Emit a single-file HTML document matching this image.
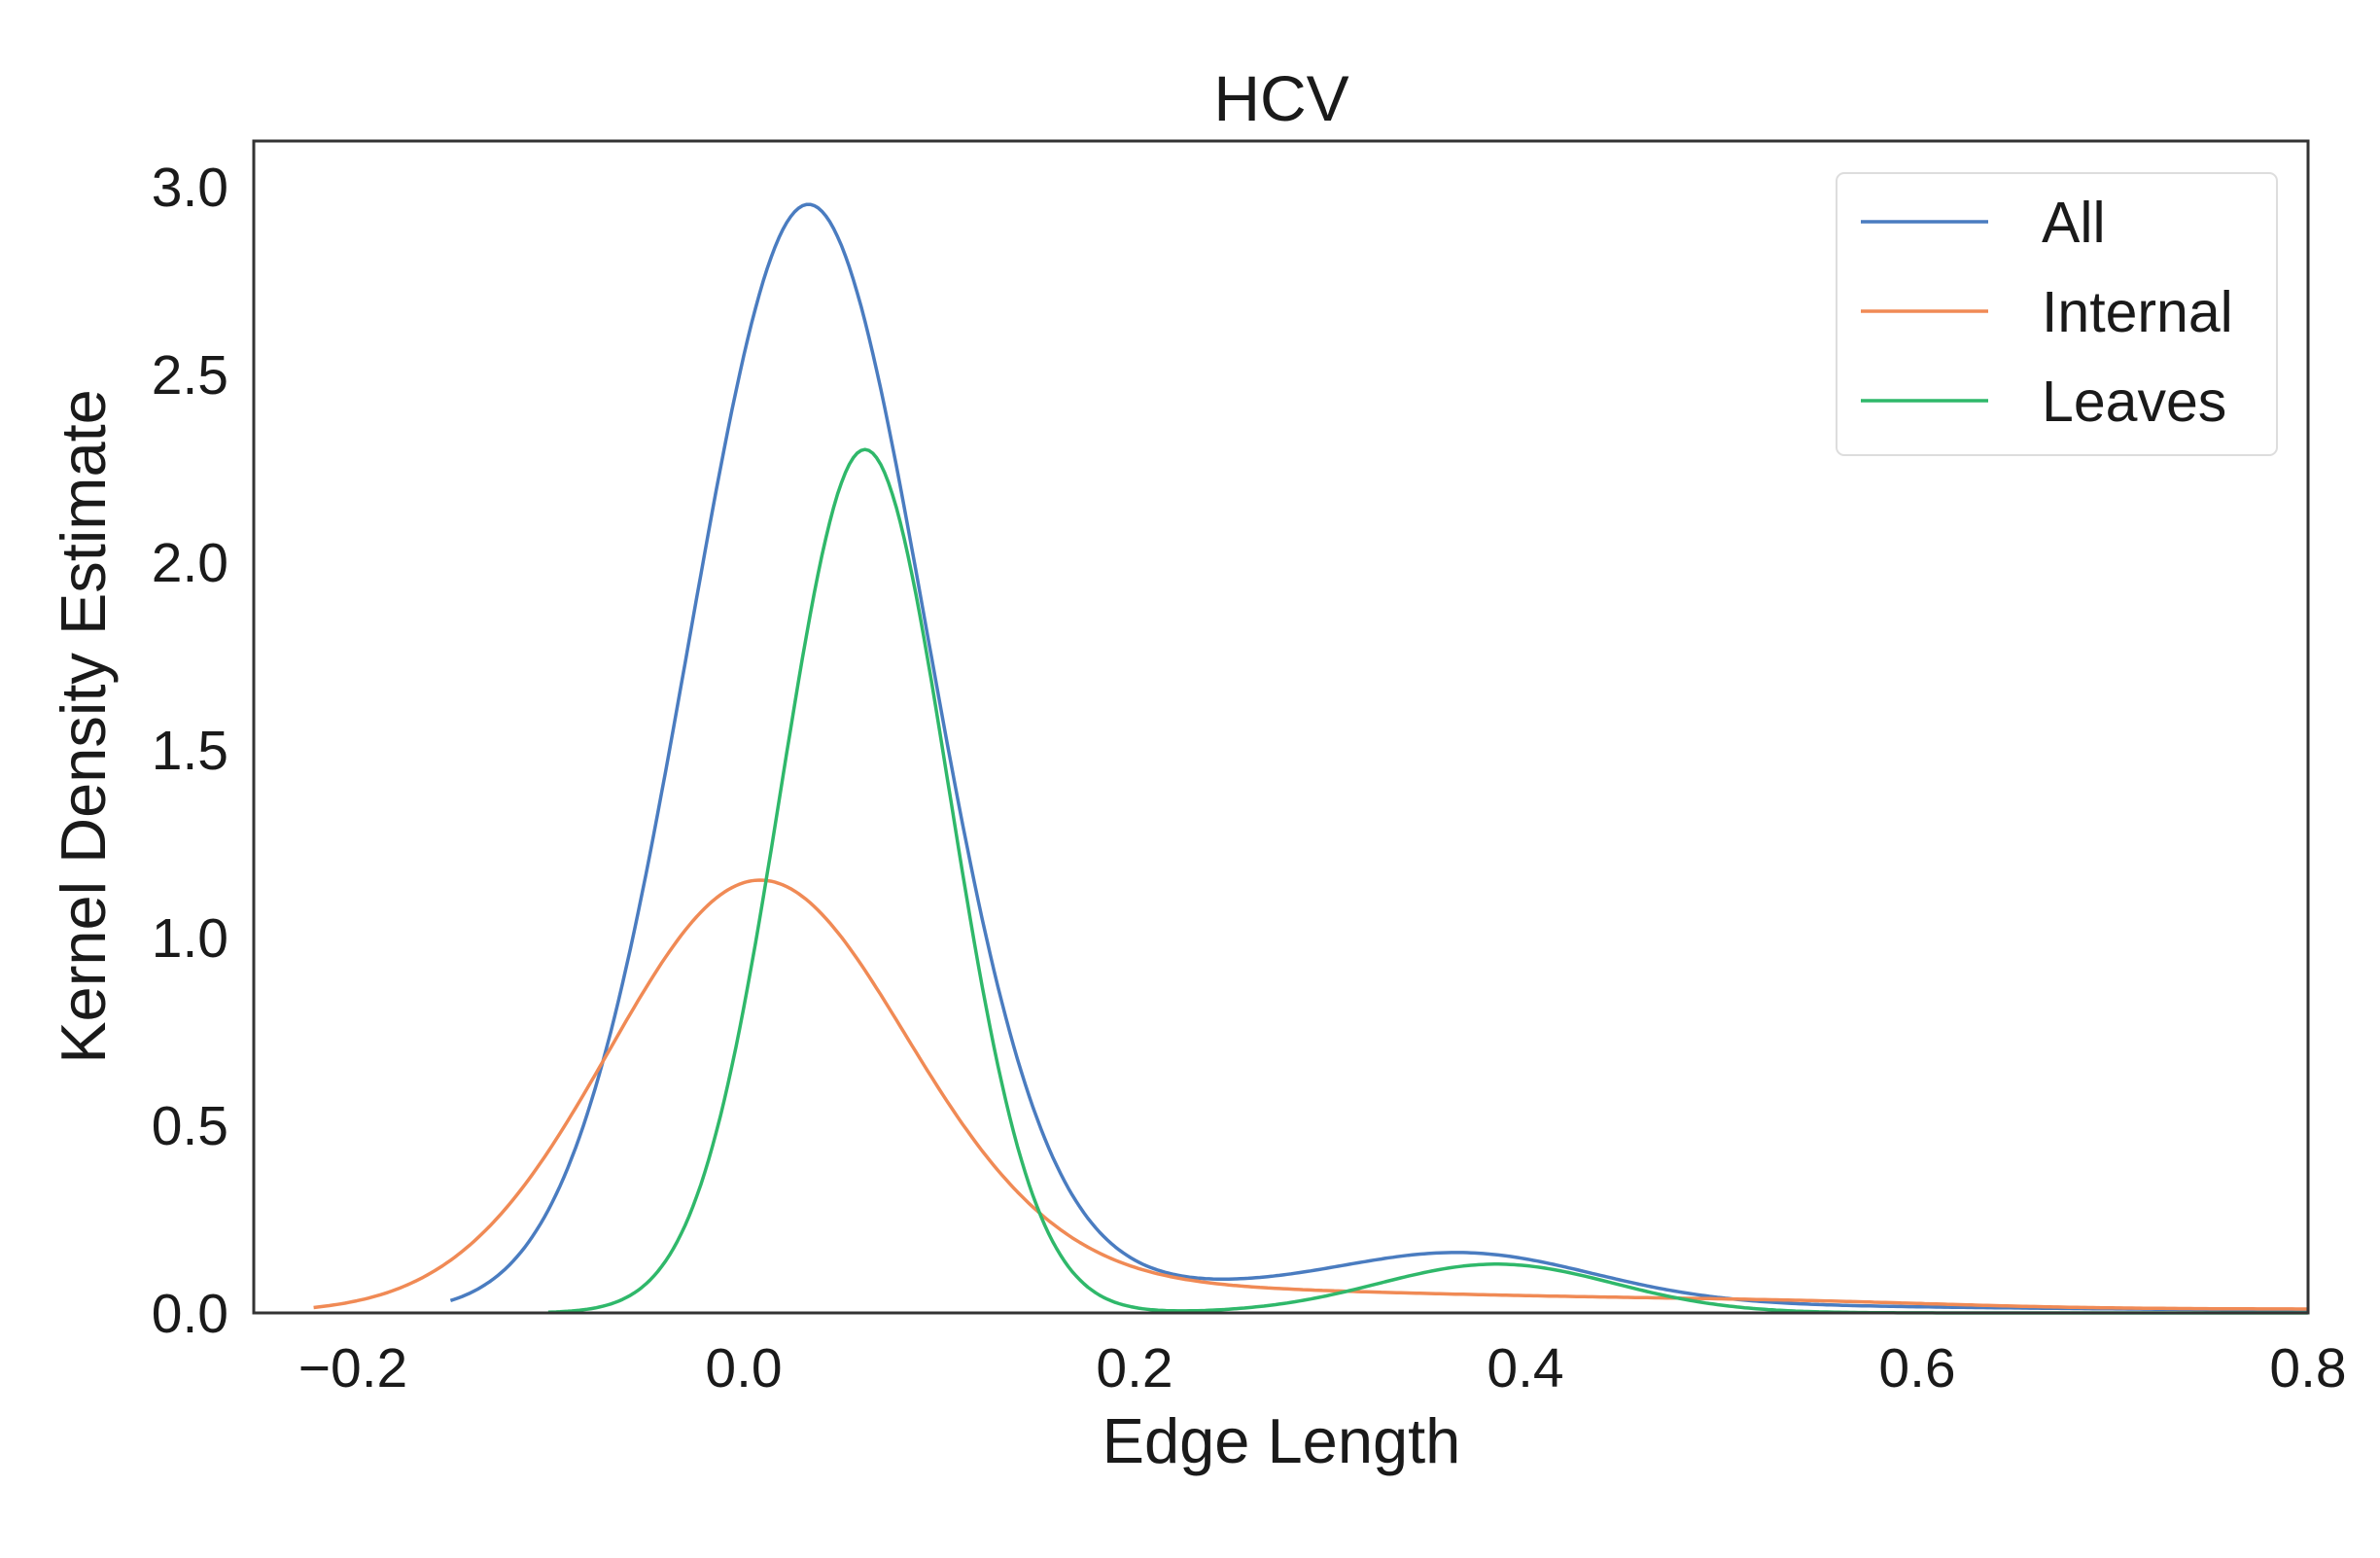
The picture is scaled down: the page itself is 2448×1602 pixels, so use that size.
<!DOCTYPE html>
<html><head><meta charset="utf-8"><style>
html,body{margin:0;padding:0;background:#fff;}
svg{display:block;}
text{font-family:"Liberation Sans",sans-serif;fill:#1a1a1a;}
</style></head><body>
<svg id="s" width="2448" height="1602" xmlns="http://www.w3.org/2000/svg">
<rect width="2448" height="1602" fill="#fff"/>
<g id="curves"></g>
<rect x="261" y="145" width="2113" height="1205" fill="none" stroke="#333" stroke-width="3"/>
<text x="1318" y="124" font-size="66" text-anchor="middle">HCV</text>
<g font-size="57" text-anchor="end">
<text x="235" y="1370">0.0</text>
<text x="235" y="1177">0.5</text>
<text x="235" y="984">1.0</text>
<text x="235" y="791">1.5</text>
<text x="235" y="598">2.0</text>
<text x="235" y="405">2.5</text>
<text x="235" y="212">3.0</text>
</g>
<g font-size="57" text-anchor="middle">
<text x="363" y="1426">−0.2</text>
<text x="765" y="1426">0.0</text>
<text x="1167" y="1426">0.2</text>
<text x="1569" y="1426">0.4</text>
<text x="1972" y="1426">0.6</text>
<text x="2374" y="1426">0.8</text>
</g>
<text x="1318" y="1504" font-size="65" text-anchor="middle">Edge Length</text>
<text transform="translate(108,747) rotate(-90)" font-size="65" text-anchor="middle">Kernel Density Estimate</text>
<rect x="1889" y="178" width="453" height="290" rx="8" fill="#fff" fill-opacity="0.9" stroke="#ddd" stroke-width="2"/>
<line x1="1914" y1="228" x2="2045" y2="228" stroke="#4a7cc0" stroke-width="3.5"/>
<line x1="1914" y1="320" x2="2045" y2="320" stroke="#f08a55" stroke-width="3.5"/>
<line x1="1914" y1="412" x2="2045" y2="412" stroke="#2fb86a" stroke-width="3.5"/>
<g font-size="59">
<text x="2100" y="249">All</text>
<text x="2100" y="341">Internal</text>
<text x="2100" y="433">Leaves</text>
</g>
</svg>
<script>
function g(x,m,s,p){var z=(x-m)/s;return p*Math.exp(-0.5*z*z);}
function sig(x){return 1/(1+Math.exp(-x));}
function X(x){return 765+x*2011;}
function Y(y){return 1350-y*386;}
function all(x){return g(x,0.033,0.061,2.95)+g(x,0.37,0.065,0.12)+0.08*Math.exp(-(x-0.2)/0.25)*sig((x-0.15)/0.03);}
function intl(x){return g(x,0.008,0.077,1.15)+0.075*Math.exp(-(x-0.2)/0.4)*sig((x-0.12)/0.03)*sig((0.62-x)/0.05)+0.01*sig((x-0.5)/0.05);}
function leaf(x){return g(x,0.062,0.043,2.3)+g(x,0.385,0.06,0.13);}
function path(f,a,b,c){var d="";for(var x=a;x<=b+1e-9;x+=0.002){d+=(d?"L":"M")+X(x).toFixed(1)+","+Y(f(x)).toFixed(1);}
return '<path d="'+d+'" fill="none" stroke="'+c+'" stroke-width="3.5" stroke-linejoin="round"/>';}
document.getElementById("curves").innerHTML=
path(all,-0.15,0.8,"#4a7cc0")+path(intl,-0.22,0.8,"#f08a55")+path(leaf,-0.10,0.8,"#2fb86a");
</script>
</body></html>
